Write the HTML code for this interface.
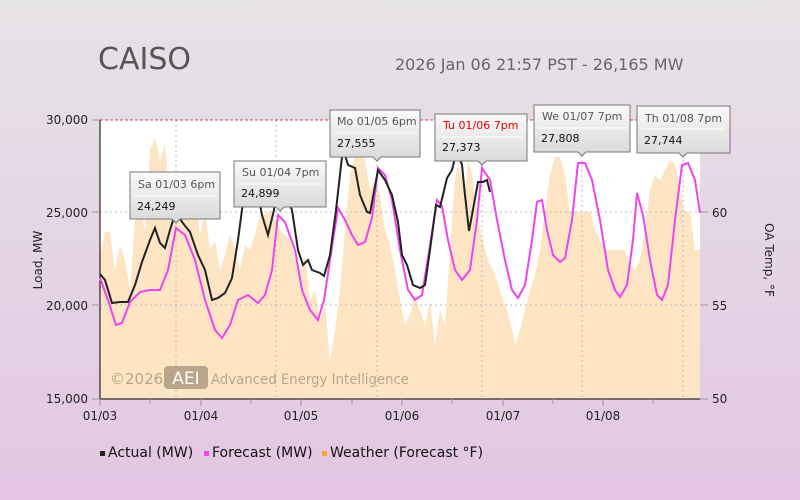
<!DOCTYPE html>
<html><head><meta charset="utf-8"><style>
html,body{margin:0;width:800px;height:500px;overflow:hidden}
body{background:linear-gradient(#e6e3e6,#e3c6e4);font-family:"Liberation Sans","DejaVu Sans",sans-serif}
svg{display:block}
svg text{font-family:"DejaVu Sans","Liberation Sans",sans-serif}
</style></head><body>
<svg width="800" height="500" xmlns="http://www.w3.org/2000/svg">
<defs><linearGradient id="tg" x1="0" y1="0" x2="0" y2="1"><stop offset="0" stop-color="#fafafa"/><stop offset="1" stop-color="#d8d8d8"/></linearGradient></defs>
<text x="98" y="69" font-size="30" fill="#555">CAISO</text>
<text x="395" y="70" font-size="16" fill="#666">2026 Jan 06 21:57 PST - 26,165 MW</text>
<rect x="100" y="120" width="600" height="279" fill="#fff"/>
<polygon fill="#fde5c4" points="100,255 105,232 110,232 115,270 120,245 125,260 130,290 135,220 140,210 145,230 150,150 155,138 160,160 165,145 170,200 175,215 180,220 185,195 190,175 195,195 200,235 205,210 210,250 215,240 220,270 225,255 230,235 235,248 240,270 245,245 250,250 255,235 260,215 265,215 270,210 275,222 280,230 285,235 290,240 295,260 300,270 305,255 310,300 315,290 320,320 325,305 330,360 335,330 340,290 345,230 350,175 355,155 360,150 365,160 370,190 375,180 380,195 385,230 390,245 395,270 400,300 405,325 410,315 415,295 420,310 425,325 430,300 435,345 440,310 445,325 450,250 455,180 458,165 462,175 465,195 468,160 472,175 475,200 480,230 485,250 490,265 495,275 500,290 505,305 510,320 515,345 520,330 525,310 530,290 535,275 540,250 545,210 550,175 555,157 560,157 565,175 570,212 590,212 595,230 600,240 605,250 625,250 630,265 635,270 640,260 645,230 650,190 655,175 660,180 665,170 670,160 675,165 680,190 685,212 690,212 695,250 700,250 700,399 100,399"/>
<g stroke="#bbb" stroke-dasharray="2,3" stroke-width="1">
<line x1="100" y1="212" x2="700" y2="212"/><line x1="100" y1="305" x2="700" y2="305"/>
<line x1="176" y1="120" x2="176" y2="399"/><line x1="276" y1="120" x2="276" y2="399"/><line x1="377" y1="120" x2="377" y2="399"/><line x1="482" y1="120" x2="482" y2="399"/><line x1="582" y1="120" x2="582" y2="399"/><line x1="683" y1="120" x2="683" y2="399"/>
</g>
<line x1="100" y1="120" x2="700" y2="120" stroke="#c44" stroke-dasharray="3,2"/>
<line x1="100" y1="120" x2="100" y2="399" stroke="#000"/>
<line x1="100" y1="399" x2="700" y2="399" stroke="#000"/>
<g stroke="#999"><line x1="100" y1="399" x2="100" y2="406"/><line x1="150" y1="399" x2="150" y2="404"/><line x1="201" y1="399" x2="201" y2="406"/><line x1="251" y1="399" x2="251" y2="404"/><line x1="301" y1="399" x2="301" y2="406"/><line x1="352" y1="399" x2="352" y2="404"/><line x1="402" y1="399" x2="402" y2="406"/><line x1="452" y1="399" x2="452" y2="404"/><line x1="503" y1="399" x2="503" y2="406"/><line x1="553" y1="399" x2="553" y2="404"/><line x1="603" y1="399" x2="603" y2="406"/><line x1="653" y1="399" x2="653" y2="404"/>
<line x1="92" y1="120" x2="100" y2="120"/><line x1="92" y1="212" x2="100" y2="212"/><line x1="92" y1="305" x2="100" y2="305"/><line x1="92" y1="399" x2="100" y2="399"/>
<line x1="700" y1="212" x2="708" y2="212"/><line x1="700" y1="305" x2="708" y2="305"/><line x1="700" y1="399" x2="708" y2="399"/></g>
<text x="110" y="384" font-size="15" fill="#b8a58c">©2026</text>
<rect x="164" y="366" width="44" height="23" rx="4" fill="#b8a58c"/>
<text x="186" y="384" font-size="17" fill="#fff" text-anchor="middle">AEI</text>
<text x="211" y="384" font-size="14.5" fill="#b8a58c" textLength="198" lengthAdjust="spacingAndGlyphs">Advanced Energy Intelligence</text>
<polyline fill="none" stroke="#ee44ee" stroke-width="2" points="100,278 108,300 116,325 122,323 130,302 140,292 150,290 160,290 168,270 176,228 185,235 195,260 205,300 215,330 222,338 230,325 238,300 248,295 258,303 265,295 272,270 278,215 285,222 295,250 302,290 310,310 318,320 324,300 330,260 338,208 345,220 352,235 358,245 365,242 372,218 378,168 385,175 392,200 400,250 408,290 415,300 422,295 430,245 437,200 442,206 448,240 455,270 462,280 470,270 477,220 482,168 490,180 497,220 505,260 512,290 518,298 525,285 532,240 537,202 542,200 547,230 553,255 560,262 565,258 572,220 578,163 585,163 592,180 600,220 608,270 615,290 620,297 627,285 633,240 637,193 643,215 650,260 657,295 662,300 668,285 675,220 682,165 688,163 695,180 700,213"/>
<polyline fill="none" stroke="#222" stroke-width="2" points="100,274 105,280 112,303 120,302 128,302 135,285 142,262 150,240 155,228 160,243 165,248 170,230 176,211 182,222 190,232 198,255 205,270 212,300 218,298 225,293 232,278 238,240 246,180 255,180 262,215 268,235 274,210 276,190 285,195 292,210 298,250 303,265 308,260 312,270 320,273 324,276 330,255 336,210 343,148 348,165 355,168 360,195 367,212 370,213 378,170 385,180 392,195 398,222 402,255 407,265 413,285 420,288 425,285 430,250 436,205 440,207 447,178 452,170 457,150 462,165 465,195 469,231 472,215 478,182 483,182 487,180 490,192"/>
<g font-size="11" fill="#333">
<g><path d="M130,172h90v47h-40l-4,4-4,-4h-42z" fill="url(#tg)" stroke="#777"/><line x1="134" y1="196" x2="216" y2="196" stroke="#fff"/><text x="138" y="188" fill="#555">Sa 01/03 6pm</text><text x="137" y="210" fill="#111">24,249</text></g>
<g><path d="M234,161h92v46h-42l-4,4-4,-4h-42z" fill="url(#tg)" stroke="#777"/><line x1="238" y1="184" x2="322" y2="184" stroke="#fff"/><text x="242" y="176" fill="#555">Su 01/04 7pm</text><text x="241" y="197" fill="#111">24,899</text></g>
<g><path d="M330,110h90v47h-39l-4,4-4,-4h-43z" fill="url(#tg)" stroke="#777"/><line x1="334" y1="133" x2="416" y2="133" stroke="#fff"/><text x="337" y="125" fill="#555">Mo 01/05 6pm</text><text x="337" y="147" fill="#111">27,555</text></g>
<g><path d="M435,114h92v47h-41l-4,4-4,-4h-43z" fill="url(#tg)" stroke="#777"/><line x1="439" y1="137" x2="523" y2="137" stroke="#fff"/><text x="443" y="129" fill="#e00">Tu 01/06 7pm</text><text x="442" y="151" fill="#111">27,373</text></g>
<g><path d="M534,105h96v47h-44l-4,4-4,-4h-44z" fill="url(#tg)" stroke="#777"/><line x1="538" y1="128" x2="626" y2="128" stroke="#fff"/><text x="542" y="120" fill="#555">We 01/07 7pm</text><text x="541" y="142" fill="#111">27,808</text></g>
<g><path d="M637,106h93v47h-43l-4,4-4,-4h-42z" fill="url(#tg)" stroke="#777"/><line x1="641" y1="129" x2="726" y2="129" stroke="#fff"/><text x="645" y="122" fill="#555">Th 01/08 7pm</text><text x="644" y="144" fill="#111">27,744</text></g>
</g>
<g font-size="12" fill="#222">
<text x="88" y="124" text-anchor="end">30,000</text><text x="88" y="217" text-anchor="end">25,000</text><text x="88" y="310" text-anchor="end">20,000</text><text x="88" y="403" text-anchor="end">15,000</text>
<text x="712" y="217">60</text><text x="712" y="310">55</text><text x="712" y="403">50</text>
<text x="100" y="420" text-anchor="middle">01/03</text><text x="201" y="420" text-anchor="middle">01/04</text><text x="301" y="420" text-anchor="middle">01/05</text><text x="402" y="420" text-anchor="middle">01/06</text><text x="503" y="420" text-anchor="middle">01/07</text><text x="603" y="420" text-anchor="middle">01/08</text>
<text transform="translate(42,260) rotate(-90)" text-anchor="middle">Load, MW</text>
<text transform="translate(765,260) rotate(90)" text-anchor="middle">OA Temp, °F</text>
</g>
<g font-size="14" fill="#111">
<rect x="100" y="451" width="5" height="5" fill="#222"/><text x="108" y="457">Actual (MW)</text>
<rect x="204" y="451" width="5" height="5" fill="#ee44ee"/><text x="212" y="457">Forecast (MW)</text>
<rect x="322" y="451" width="5" height="5" fill="#f8a830"/><text x="330" y="457">Weather (Forecast °F)</text>
</g>
</svg>
</body></html>
